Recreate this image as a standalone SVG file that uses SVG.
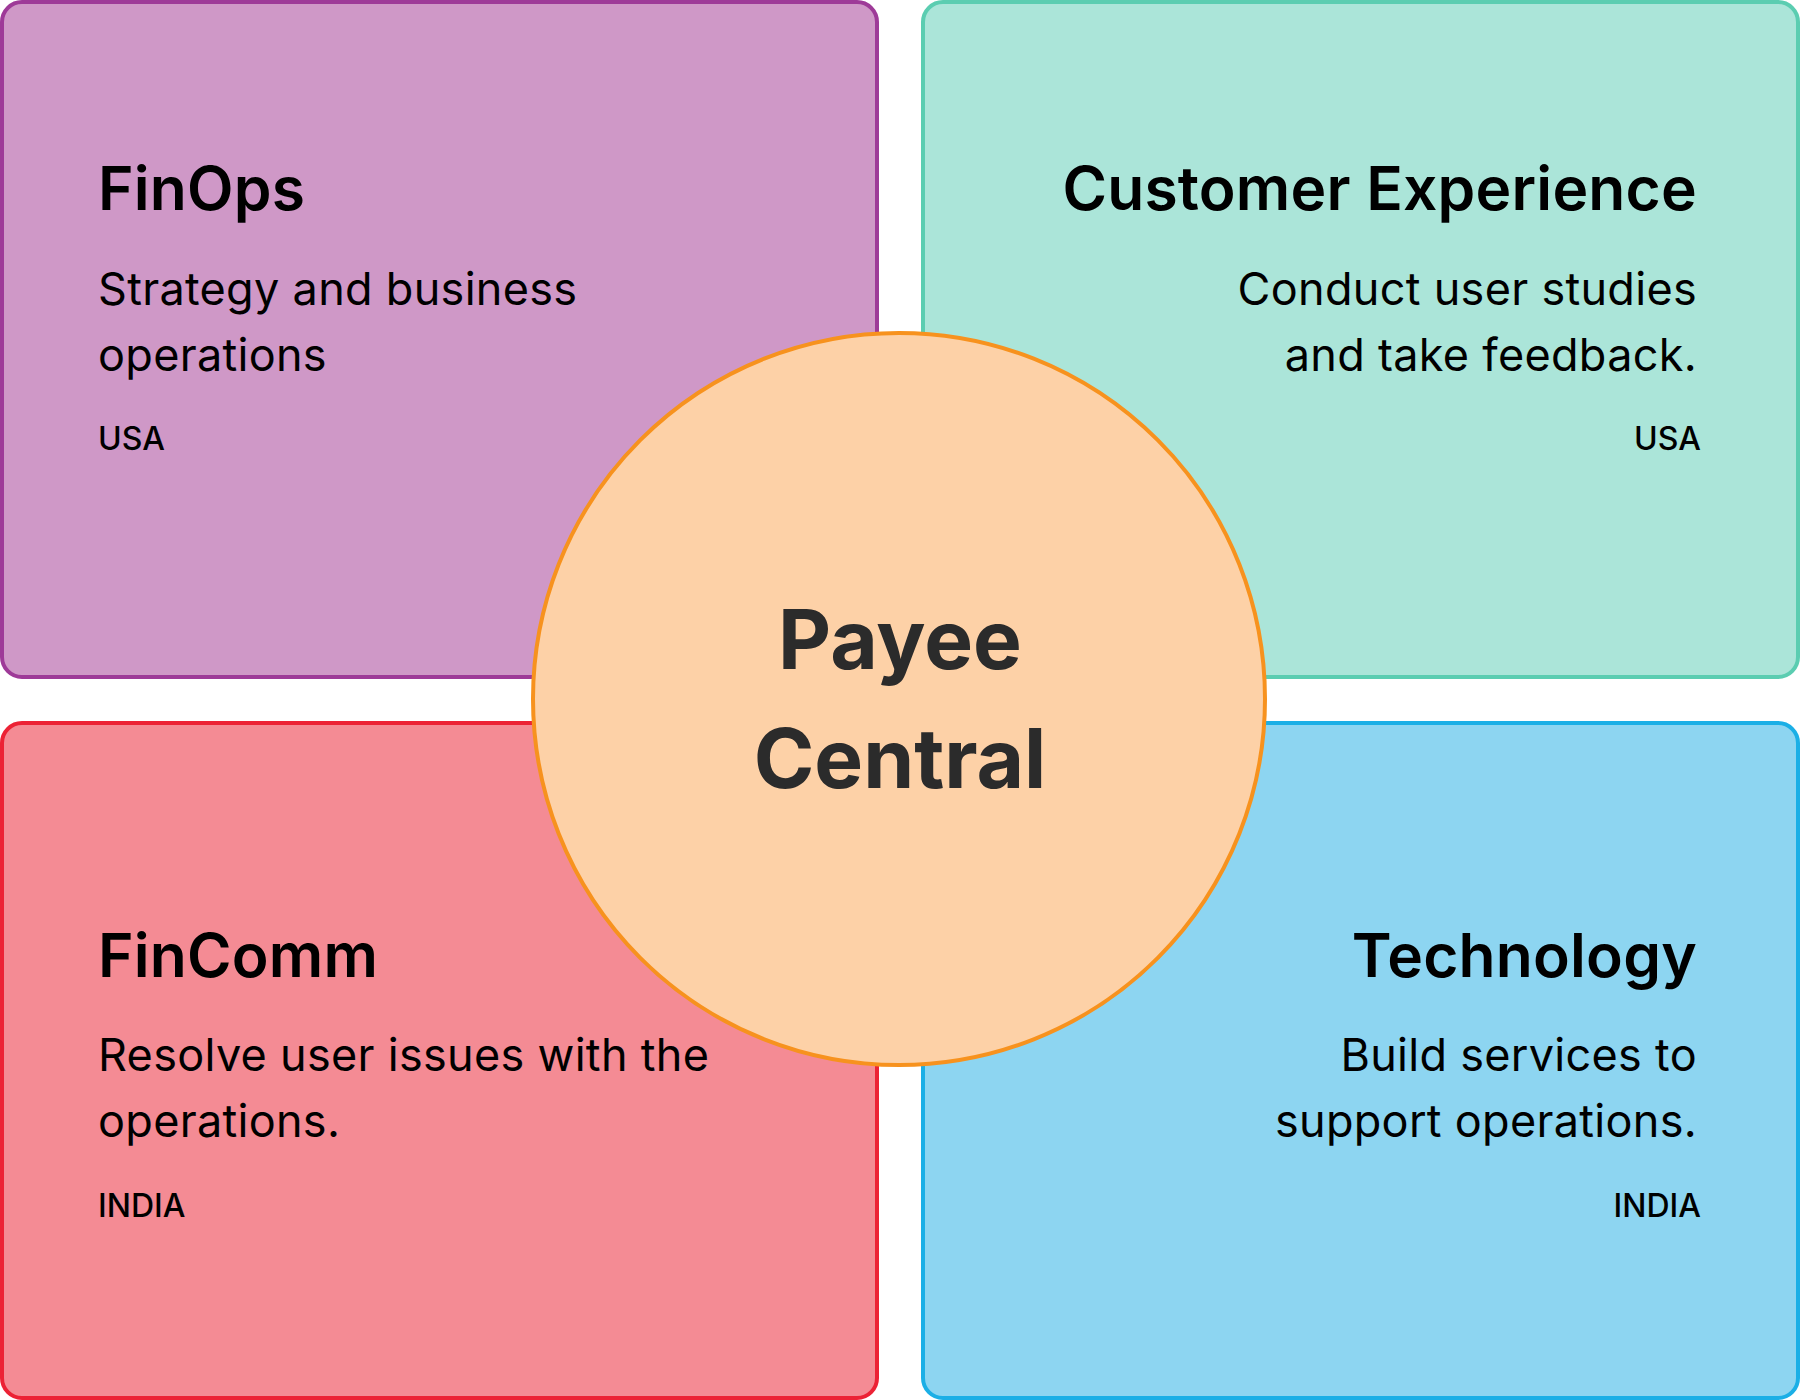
<svg xmlns="http://www.w3.org/2000/svg" width="1800" height="1400" viewBox="0 0 1800 1400">
  <style>
    .box { stroke-width: 4; }
    .title { font-family: Inter, "Liberation Sans", sans-serif; font-weight: 600; font-size: 60.5px; letter-spacing: 0.2px; fill: #000; }
    .desc { font-family: Inter, "Liberation Sans", sans-serif; font-weight: 400; font-size: 45px; letter-spacing: 0.3px; fill: #000; }
    .loc { font-family: Inter, "Liberation Sans", sans-serif; font-weight: 500; font-size: 32px; fill: #000; }
    .center { font-family: Inter, "Liberation Sans", sans-serif; font-weight: 700; font-size: 82px; fill: #2B2B2B; text-anchor: middle; }
    .r { text-anchor: end; }
  </style>
  <rect width="1800" height="1400" fill="#FFFFFF"/>
  <g id="finops">
    <rect class="box" x="2" y="2" width="875" height="675" rx="20" fill="#CF98C7" stroke="#9E3A98"/>
    <text class="title" x="98" y="210">FinOps</text>
    <text class="desc" x="98" y="305">Strategy and business</text>
    <text class="desc" x="98" y="371">operations</text>
    <text class="loc" x="98" y="450">USA</text>
  </g>
  <g id="customer-experience">
    <rect class="box" x="923" y="2" width="875" height="675" rx="20" fill="#ABE5D9" stroke="#5BCDB1"/>
    <text class="title r" x="1697" y="210">Customer Experience</text>
    <text class="desc r" x="1697" y="305">Conduct user studies</text>
    <text class="desc r" x="1697" y="371">and take feedback.</text>
    <text class="loc r" x="1701" y="450">USA</text>
  </g>
  <g id="fincomm">
    <rect class="box" x="2" y="723" width="875" height="675" rx="20" fill="#F48B94" stroke="#EC2235"/>
    <text class="title" x="98" y="977">FinComm</text>
    <text class="desc" x="98" y="1071">Resolve user issues with the</text>
    <text class="desc" x="98" y="1137">operations.</text>
    <text class="loc" x="98" y="1217">INDIA</text>
  </g>
  <g id="technology">
    <rect class="box" x="923" y="723" width="875" height="675" rx="20" fill="#8DD5F1" stroke="#1BAFE6"/>
    <text class="title r" x="1697" y="977">Technology</text>
    <text class="desc r" x="1697" y="1071">Build services to</text>
    <text class="desc r" x="1697" y="1137">support operations.</text>
    <text class="loc r" x="1701" y="1217">INDIA</text>
  </g>
  <g id="connectors"></g>
  <g id="payee-central">
    <circle cx="899" cy="699" r="366" fill="#FDD1A7" stroke="#F7921E" stroke-width="4"/>
    <text class="center" x="900" y="669">Payee</text>
    <text class="center" x="900" y="788">Central</text>
  </g>
</svg>
